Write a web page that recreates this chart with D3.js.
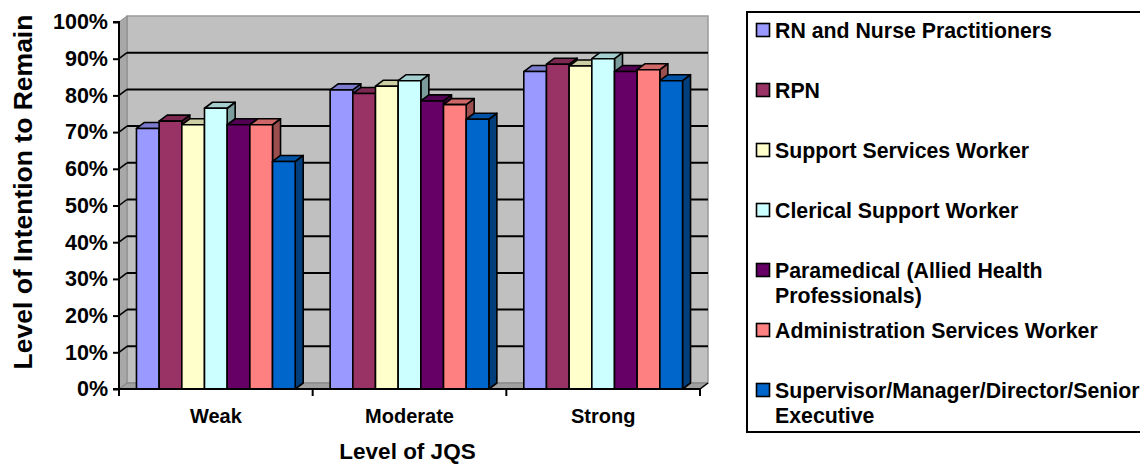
<!DOCTYPE html>
<html>
<head>
<meta charset="utf-8">
<script src="https://cdn.jsdelivr.net/npm/d3@7"></script>
<style>
  html, body { margin: 0; padding: 0; background: #fff; overflow: hidden; }
  svg { display: block; font-family: "Liberation Sans", Arial, sans-serif; font-weight: bold; }
</style>
</head>
<body>
<svg id="chart" width="1140" height="466"></svg>
<script>
// Job quality score (JQS) levels along the x axis
const categories = ["Weak", "Moderate", "Strong"];

// Series names, in legend order
const seriesNames = [
  "RN and Nurse Practitioners",
  "RPN",
  "Support Services Worker",
  "Clerical Support Worker",
  "Paramedical (Allied Health Professionals)",
  "Administration Services Worker",
  "Supervisor/Manager/Director/Senior Executive"
];

// Level of intention to remain (%), one value per JQS level
const rnNurse        = [71, 81.5, 86.5];
const rpn            = [73, 80.5, 88.5];
const supportWorker  = [72, 82.5, 88];
const clericalWorker = [76.5, 84, 90];
const paramedical    = [72, 78.5, 86.5];
const adminWorker    = [72, 77.5, 87];
const supervisor     = [62, 73.5, 84];

const yTicks = [0, 10, 20, 30, 40, 50, 60, 70, 80, 90, 100];

const seriesValues = [rnNurse, rpn, supportWorker, clericalWorker, paramedical, adminWorker, supervisor];
const seriesColors = ["#9999FF", "#993366", "#FFFFCC", "#CCFFFF", "#660066", "#FF8080", "#0066CC"];

// legend text, with the wrapped lines of the long names
const legendLines = [
  ["RN and Nurse Practitioners"],
  ["RPN"],
  ["Support Services Worker"],
  ["Clerical Support Worker"],
  ["Paramedical (Allied Health", "Professionals)"],
  ["Administration Services Worker"],
  ["Supervisor/Manager/Director/Senior", "Executive"]
];

const svg = d3.select("#chart");

// front plane of the 3-D plot box, and the depth offset to the back wall
const plotLeft = 119, plotRight = 700, plotBottom = 389, plotTop = 22;
const depthX = 8, depthY = -6;

const y = d3.scaleLinear().domain([0, 100]).range([plotBottom, plotTop]);
const x0 = d3.scaleBand().domain(categories).range([plotLeft, plotRight]).padding(0);
const x1 = d3.scaleBand().domain(d3.range(seriesNames.length))
  .range([0, x0.bandwidth()]).paddingInner(0).paddingOuter(0.77);

const poly = pts => "M" + pts.map(p => p.join(",")).join("L") + "Z";

// ---- walls ----
const walls = svg.append("g");
// back wall
walls.append("rect")
  .attr("x", plotLeft + depthX).attr("y", plotTop + depthY)
  .attr("width", plotRight - plotLeft).attr("height", plotBottom - plotTop)
  .attr("fill", "#C0C0C0").attr("stroke", "#9a9a9a").attr("stroke-width", 1.5);
// side wall
walls.append("path")
  .attr("d", poly([[plotLeft, plotTop], [plotLeft + depthX, plotTop + depthY], [plotLeft + depthX, plotBottom + depthY], [plotLeft, plotBottom]]))
  .attr("fill", "#a8a8a8").attr("stroke", "#8a8a8a").attr("stroke-width", 1);
// floor
walls.append("path")
  .attr("d", poly([[plotLeft, plotBottom], [plotLeft + depthX, plotBottom + depthY], [plotRight + depthX, plotBottom + depthY], [plotRight, plotBottom]]))
  .attr("fill", "#a0a0a0").attr("stroke", "#808080").attr("stroke-width", 1);

// gridlines on the back wall and side wall
const grid = svg.append("g");
yTicks.filter(t => t > 0 && t < 100).forEach(t => {
  grid.append("line")
    .attr("x1", plotLeft + depthX).attr("x2", plotRight + depthX)
    .attr("y1", y(t) + depthY).attr("y2", y(t) + depthY)
    .attr("stroke", "#000").attr("stroke-width", 2);
  grid.append("line")
    .attr("x1", plotLeft).attr("x2", plotLeft + depthX)
    .attr("y1", y(t)).attr("y2", y(t) + depthY)
    .attr("stroke", "#000").attr("stroke-width", 1.5);
});

// ---- bars ----
const bars = svg.append("g");
categories.forEach((cat, ci) => {
  seriesValues.forEach((vals, si) => {
    const v = vals[ci];
    const xa = x0(cat) + x1(si), w = x1.bandwidth();
    const yt = y(v), yb = y(0);
    const base = d3.color(seriesColors[si]);
    const g = bars.append("g").attr("stroke", "#000").attr("stroke-width", 1.6).attr("stroke-linejoin", "round");
    g.append("path")
      .attr("d", poly([[xa + w, yt], [xa + w + depthX, yt + depthY], [xa + w + depthX, yb + depthY], [xa + w, yb]]))
      .attr("fill", base.darker(1.4));
    g.append("path")
      .attr("d", poly([[xa, yt], [xa + depthX, yt + depthY], [xa + w + depthX, yt + depthY], [xa + w, yt]]))
      .attr("fill", base.darker(0.6));
    g.append("rect")
      .attr("x", xa).attr("y", yt).attr("width", w).attr("height", yb - yt)
      .attr("fill", base);
  });
});

// ---- axes ----
const yAxis = svg.append("g")
  .attr("transform", `translate(${plotLeft},0)`)
  .call(d3.axisLeft(y).tickValues(yTicks).tickFormat(d => d + "%").tickSize(6).tickPadding(5));
yAxis.select(".domain").attr("stroke", "#000").attr("stroke-width", 2).attr("d", `M-6,${plotTop}H0V${plotBottom}H-6`);
yAxis.selectAll(".tick line").attr("stroke", "#000").attr("stroke-width", 2);
yAxis.selectAll(".tick text").attr("fill", "#000").style("font-size", "21.5px").style("font-weight", "bold")
  .style("font-family", "'Liberation Sans', Arial, sans-serif");

const xAxis = svg.append("g")
  .attr("transform", `translate(0,${plotBottom})`)
  .call(d3.axisBottom(x0).tickSize(0).tickPadding(20));
xAxis.select(".domain").attr("stroke", "#000").attr("stroke-width", 2).attr("d", `M${plotLeft},0H${plotRight}`);
xAxis.selectAll(".tick text").attr("fill", "#000").style("font-size", "20px").style("font-weight", "bold")
  .style("font-family", "'Liberation Sans', Arial, sans-serif");
// category separators
const edges = categories.map(c => x0(c)).concat([x0(categories[categories.length - 1]) + x0.bandwidth()]);
xAxis.selectAll("line.edge").data(edges).enter().append("line")
  .attr("class", "edge")
  .attr("x1", d => d).attr("x2", d => d).attr("y1", 0).attr("y2", 7)
  .attr("stroke", "#000").attr("stroke-width", 2);
// floor edge at the right end
xAxis.append("line")
  .attr("x1", plotRight).attr("y1", 0).attr("x2", plotRight + depthX).attr("y2", depthY)
  .attr("stroke", "#000").attr("stroke-width", 1.5);

// axis titles
svg.append("text")
  .attr("x", (plotLeft + plotRight) / 2 - 2).attr("y", 459)
  .attr("text-anchor", "middle").style("font-size", "22.5px")
  .text("Level of JQS");
svg.append("text")
  .attr("transform", "translate(32,192) rotate(-90)")
  .attr("text-anchor", "middle").style("font-size", "26.5px")
  .text("Level of Intention to Remain");

// ---- legend ----
const legend = svg.append("g");
legend.append("rect")
  .attr("x", 747).attr("y", 12).attr("width", 420).attr("height", 420)
  .attr("fill", "#fff").attr("stroke", "#000").attr("stroke-width", 2);
legendLines.forEach((lines, i) => {
  const cy = 30 + i * 60;
  legend.append("rect")
    .attr("x", 756.5).attr("y", cy - 6.5).attr("width", 13).attr("height", 13)
    .attr("fill", seriesColors[i]).attr("stroke", "#000").attr("stroke-width", 1.6);
  const t = legend.append("text").attr("x", 775).attr("y", cy + 7.5).style("font-size", "21.3px");
  lines.forEach((ln, li) => {
    t.append("tspan").attr("x", 775).attr("dy", li === 0 ? 0 : 25).text(ln);
  });
});
</script>
</body>
</html>
